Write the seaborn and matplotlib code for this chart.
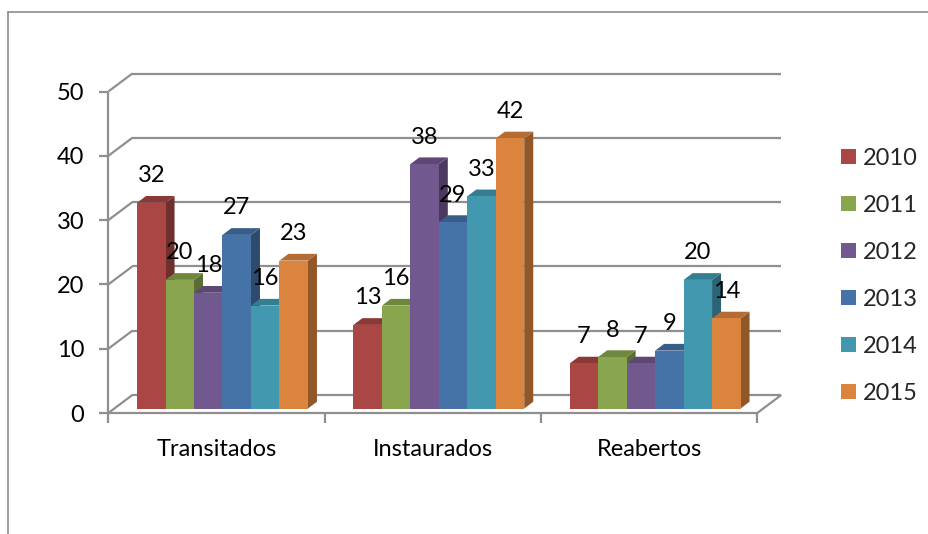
import matplotlib
matplotlib.use("Agg")
import matplotlib.pyplot as plt
from matplotlib.patches import Polygon, Patch
from matplotlib.lines import Line2D
from matplotlib.colors import to_rgb
import seaborn as sns
import pandas as pd

# ---- data -------------------------------------------------------------
categories = ["Transitados", "Instaurados", "Reabertos"]
years = ["2010", "2011", "2012", "2013", "2014", "2015"]
v2010 = [32, 13, 7]
v2011 = [20, 16, 8]
v2012 = [18, 38, 7]
v2013 = [27, 29, 9]
v2014 = [16, 33, 20]
v2015 = [23, 42, 14]
series = [v2010, v2011, v2012, v2013, v2014, v2015]
y_ticks = [0, 10, 20, 30, 40, 50]

colors = ["#AA4643", "#89A54E", "#71588F", "#4572A7", "#4198AF", "#DB843D"]

rows = []
for yr, vals in zip(years, series):
    for cat, v in zip(categories, vals):
        rows.append({"categoria": cat, "ano": yr, "valor": v})
df = pd.DataFrame(rows)

# ---- figure / axes geometry (pixels) ---------------------------------
W, H = 929, 534
sns.set_theme(style="white")
plt.rcParams["font.family"] = ["Lato", "DejaVu Sans"]
FS = 17

fig = plt.figure(figsize=(W / 100, H / 100), dpi=100)
PX_X = 216.3          # pixels per category
PX_Y = 6.43           # pixels per value unit
X0 = 222.5            # pixel x of first category centre
Y0 = 408.5            # pixel y of value 0 on the bar plane
XLIM = (-0.5, 2.5)
YLIM = (-3, 55)
left = X0 + XLIM[0] * PX_X
right = X0 + XLIM[1] * PX_X
top = Y0 - YLIM[1] * PX_Y
bottom = Y0 - YLIM[0] * PX_Y
ax = fig.add_axes([left / W, 1 - bottom / H, (right - left) / W, (bottom - top) / H])
ax.set_xlim(*XLIM)
ax.set_ylim(*YLIM)
ax.axis("off")


def shift(x, y, dxp, dyp):
    """Move a data point by a pixel offset (dyp positive = downwards)."""
    return x + dxp / PX_X, y - dyp / PX_Y


FRONT = (-6.0, 4.5)
BACK = (18.0, -13.5)


def front(x, y):
    return shift(x, y, *FRONT)


def back(x, y):
    return shift(x, y, *BACK)


grid_kw = dict(color="#8f8f8f", lw=1.6, solid_capstyle="butt", clip_on=False, zorder=1)


def seg(p, q, **kw):
    ax.plot([p[0], q[0]], [p[1], q[1]], **{**grid_kw, **kw})


# back wall gridlines and left wall connectors
for v in y_ticks:
    seg(back(XLIM[0], v), back(XLIM[1], v))
    seg(front(XLIM[0], v), back(XLIM[0], v))
    # value tick marks
    p = front(XLIM[0], v)
    seg(p, shift(p[0], p[1], -9, 0))
    ax.text(*shift(p[0], p[1], -24, 2), str(v), ha="right", va="center",
            fontsize=FS, color="black")

# floor outline and front value axis
seg(front(XLIM[0], 0), front(XLIM[1], 0))
seg(front(XLIM[1], 0), back(XLIM[1], 0))
seg(front(XLIM[0], 0), front(XLIM[0], y_ticks[-1]))
for k in range(len(categories) + 1):
    p = front(XLIM[0] + k, 0)
    seg(p, shift(p[0], p[1], 0, 10))
for i, cat in enumerate(categories):
    p = front(i, 0)
    ax.text(*shift(p[0], p[1], 0, 36), cat, ha="center", va="center",
            fontsize=FS, color="black")

# ---- bars -------------------------------------------------------------
sns.barplot(data=df, x="categoria", y="valor", hue="ano", palette=colors,
            width=0.79, saturation=1, ax=ax, legend=False, linewidth=0,
            order=categories, hue_order=years)
ax.set_xlim(*XLIM)
ax.set_ylim(*YLIM)
ax.axis("off")

DX = 9 / PX_X
DY = 6.75 / PX_Y


def shade(c, f):
    r, g, b = to_rgb(c)
    return (r * f, g * f, b * f)


bars = sorted(ax.patches, key=lambda p: p.get_x())
for i, p in enumerate(bars):
    x0 = p.get_x()
    x1 = x0 + p.get_width()
    h = p.get_height()
    c = p.get_facecolor()
    base = 10 + 3 * i
    side = Polygon([(x1, 0), (x1, h), (x1 + DX, h + DY), (x1 + DX, DY)],
                   closed=True, facecolor=shade(c, 0.66), edgecolor="none", zorder=base)
    topf = Polygon([(x0, h), (x1, h), (x1 + DX, h + DY), (x0 + DX, h + DY)],
                   closed=True, facecolor=shade(c, 0.82), edgecolor="none", zorder=base + 1)
    ax.add_patch(side)
    ax.add_patch(topf)
    p.set_zorder(base + 2)
    ax.annotate(f"{h:.0f}", xy=((x0 + x1) / 2, h), xytext=(0, 27 * 0.72),
                textcoords="offset points", ha="center", va="center",
                fontsize=FS, color="black", zorder=100)

# ---- legend -----------------------------------------------------------
handles = [Patch(facecolor=c, edgecolor="none") for c in colors]
fig.legend(handles, years, loc="center left",
           bbox_to_anchor=(841 / W, 1 - 276 / H), frameon=False,
           fontsize=FS, handlelength=0.62, handleheight=0.62,
           handletextpad=0.3, labelspacing=1.1, borderpad=0, borderaxespad=0)

# ---- outer chart border (left and top edges) --------------------------
fig.add_artist(Line2D([8 / W, 8 / W], [0, 1 - 12 / H], transform=fig.transFigure,
                      color="#8c8c8c", lw=1.2))
fig.add_artist(Line2D([8 / W, 1], [1 - 12 / H, 1 - 12 / H], transform=fig.transFigure,
                      color="#8c8c8c", lw=1.2))

fig.savefig("out.png", dpi=100, facecolor="white")
